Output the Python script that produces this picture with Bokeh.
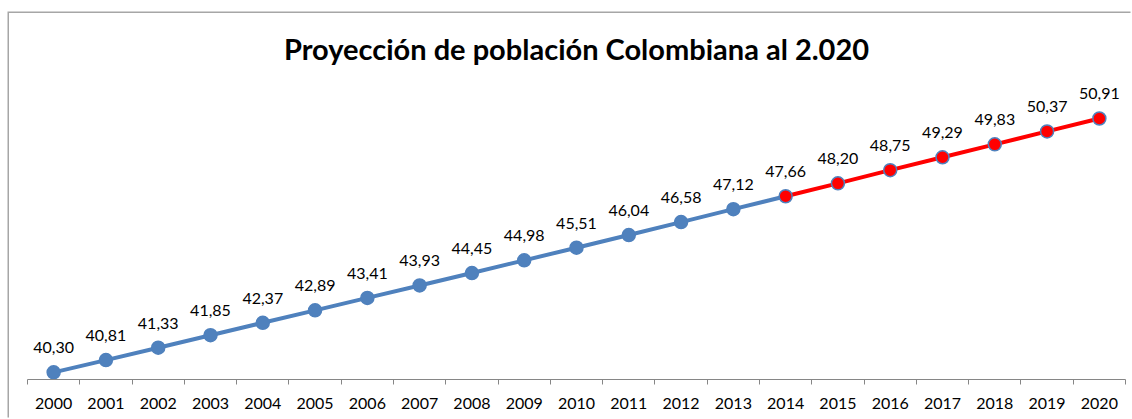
from bokeh.plotting import figure
from bokeh.models import FixedTicker, ColumnDataSource, LabelSet, Spacer, Range1d
from bokeh.layouts import column, row
from bokeh.core.properties import value
from bokeh.embed import file_html
from bokeh.resources import INLINE

years = list(range(2000, 2021))
values = [40.30, 40.81, 41.33, 41.85, 42.37, 42.89, 43.41, 43.93, 44.45, 44.98,
          45.51, 46.04, 46.58, 47.12, 47.66, 48.20, 48.75, 49.29, 49.83, 50.37, 50.91]
title_text = "Proyección de población Colombiana al 2.020"
split_year = 2014

BLUE = "#4F81BD"
RED = "#FF0000"
FONT = "Lato"

labels = [f"{v:.2f}".replace(".", ",") for v in values]
idx = years.index(split_year)

p = figure(width=1123, height=406, output_backend="svg", toolbar_location=None,
           x_range=Range1d(1999.5, 2020.5), y_range=Range1d(40, 53),
           y_axis_location=None, min_border_left=18, min_border_right=7,
           min_border_top=55, min_border_bottom=40)
p.grid.visible = False
p.outline_line_color = None
p.styles = {"box-shadow": "-1.5px -1.5px 0 0 #a6a6a6"}

p.title.text = title_text
p.title.align = "center"
p.title.text_font = FONT
p.title.text_font_style = "bold"
p.title.text_font_size = "29px"
p.title.text_color = "#000000"
p.title.standoff = 5

# lines
p.line(years[:idx + 1], values[:idx + 1], line_color=BLUE, line_width=4)
p.line(years[idx:], values[idx:], line_color=RED, line_width=4)

# markers
p.scatter(years[:idx], values[:idx], size=13, fill_color=BLUE, line_color=BLUE, line_width=1.5)
p.scatter(years[idx:], values[idx:], size=13, fill_color=RED, line_color=BLUE, line_width=1.5)

src = ColumnDataSource(dict(x=years, y=values, t=labels))
p.add_layout(LabelSet(x="x", y="y", text="t", source=src, y_offset=19,
                      text_align="center", text_baseline="alphabetic",
                      text_font=value(FONT), text_font_size=value("16px"),
                      text_color=value("#000000")))

ax = p.xaxis[0]
ax.ticker = FixedTicker(ticks=years, minor_ticks=[y - 0.5 for y in years] + [years[-1] + 0.5])
ax.major_tick_line_color = None
ax.major_tick_out = 0
ax.major_tick_in = 0
ax.minor_tick_line_color = "#868686"
ax.minor_tick_in = 0
ax.minor_tick_out = 5
ax.axis_line_color = "#868686"
ax.major_label_text_font = FONT
ax.major_label_text_font_size = "16px"
ax.major_label_text_color = "#000000"
ax.major_label_standoff = 13

layout = row(Spacer(width=9), column(Spacer(height=13), p))
open("out.html", "w").write(file_html(layout, INLINE))
